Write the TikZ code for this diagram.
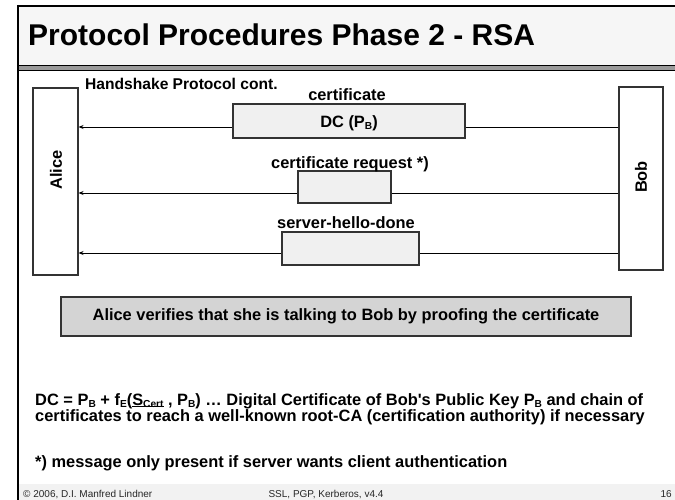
\documentclass[tikz,border=0pt]{standalone}
\usepackage{fontspec}
\setmainfont{Liberation Sans}
\usetikzlibrary{arrows.meta}
\definecolor{hdrfill}{HTML}{F6F6F6}
\definecolor{ftrfill}{HTML}{F2F2F2}
\definecolor{msgfill}{HTML}{F0F0F0}
\definecolor{notefill}{HTML}{D4D4D4}
\definecolor{linedark}{HTML}{333333}
\definecolor{bandgray}{HTML}{9A9A9A}
\newcommand\sbx[1]{\raisebox{-0.3ex}{\scalebox{0.62}{#1}}}
\newcommand\ulx[1]{\underline{\smash{#1}}}
\tikzset{
  body/.style={font=\fontsize{16.4}{19}\selectfont\bfseries, inner sep=0pt},
  lifeline/.style={draw=linedark, line width=1.1pt, fill=white, inner sep=0pt},
  msgbox/.style={draw=linedark, line width=1.1pt, fill=msgfill, inner sep=0pt},
  msgline/.style={draw=black, line width=0.9pt, -{Stealth[length=5pt,width=4pt]}},
  notebox/.style={draw=linedark, line width=1.4pt, fill=notefill, inner sep=0pt,
    font=\fontsize{16.4}{19}\selectfont\bfseries},
  footer/.style={font=\fontsize{10}{12}\selectfont, text=black!85, inner sep=0pt},
}
\begin{document}
\begin{tikzpicture}[x=1pt,y=-1pt]
\useasboundingbox (0,0) rectangle (675,500);
% slide frame
\fill[hdrfill] (18,6) rectangle (675,65);
\fill[ftrfill] (18,484) rectangle (675,500);
\fill[bandgray] (18,65) rectangle (675,70.5);
\draw[black, line width=1pt] (18,65.3) -- (675,65.3);
\draw[black, line width=1pt] (18,70.3) -- (675,70.3);
\draw[black, line width=2pt] (18,6) -- (675,6);
\draw[black, line width=1.5pt] (18,5) -- (18,500);
% title
\node[anchor=base west, inner sep=0pt, font=\fontsize{30}{36}\selectfont\bfseries] (title) at (28,46) {Protocol Procedures Phase 2 - RSA};
\node[body, anchor=base west, font=\fontsize{15.6}{18}\selectfont\bfseries] (hs) at (85,90) {Handshake Protocol cont.};
% lifelines
\node[lifeline, minimum width=45pt, minimum height=187pt] (alice) at (55.5,181.5) {};
\node[lifeline, minimum width=44pt, minimum height=183pt] (bob) at (641,178.5) {};
\node[body, rotate=90] (alicelbl) at (56,170) {Alice};
\node[body, rotate=90] (boblbl) at (641,177) {Bob};
% message rows
\coordinate (r1) at (350,127);
\coordinate (r2) at (350,193);
\coordinate (r3) at (350,253);
\draw[msgline] (bob.west |- r1) -- (alice.east |- r1);
\draw[msgline] (bob.west |- r2) -- (alice.east |- r2);
\draw[msgline] (bob.west |- r3) -- (alice.east |- r3);
\node[msgbox, minimum width=232pt, minimum height=34pt] (dc) at (349,121) {};
\node[body] (dctext) at (349,123) {DC (P\sbx{B})};
\node[msgbox, minimum width=93pt, minimum height=32pt] (cr) at (344.5,187) {};
\node[msgbox, minimum width=137pt, minimum height=33pt] (shd) at (350.5,248.5) {};
\node[body, anchor=base] (l1) at (347,101) {certificate};
\node[body, anchor=base] (l2) at (350,168) {certificate request *)};
\node[body, anchor=base] (l3) at (346,229) {server-hello-done};
% note
\node[notebox, minimum width=570pt, minimum height=39pt] (note) at (346,316.5) {Alice verifies that she is talking to Bob by proofing the certificate};
% explanations
\node[body, anchor=base west] (dc1) at (35,405) {DC = P\sbx{B} + f\sbx{E}(\ulx{S\sbx{Cert}} , P\sbx{B}) \dots\ Digital Certificate of Bob\textquotesingle s Public Key P\sbx{B} and chain of};
\node[body, anchor=base west] (dc2) at (35,421.5) {certificates to reach a well-known root-CA (certification authority) if necessary};
\node[body, anchor=base west] (fn) at (35,467) {*) message only present if server wants client authentication};
% footer
\node[footer, anchor=base west] (f1) at (23,497) {© 2006, D.I. Manfred Lindner};
\node[footer, anchor=base] (f2) at (326,497) {SSL, PGP, Kerberos, v4.4};
\node[footer, anchor=base east] (f3) at (672,497) {16};
\end{tikzpicture}
\end{document}
